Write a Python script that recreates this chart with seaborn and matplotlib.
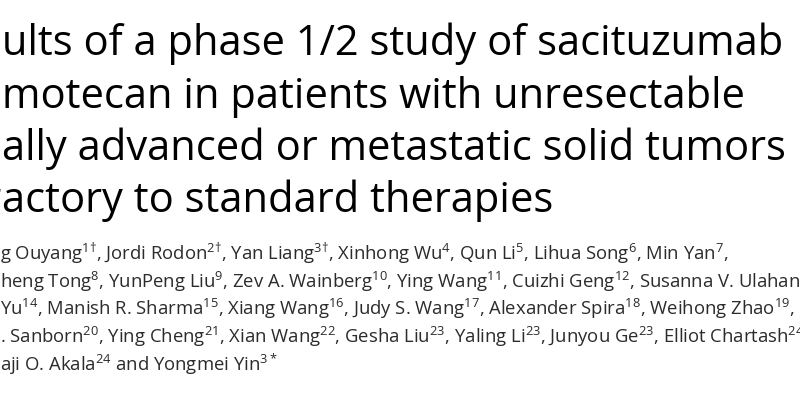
import matplotlib
matplotlib.use("Agg")
import matplotlib.pyplot as plt
import seaborn as sns

# Texto visible del recorte (titulo + autores), con el trozo oculto a la izquierda
title_hidden = ["Res", "tiru", "loc", "refr"]
title_lines = [
    "ults of a phase 1/2 study of sacituzumab",
    "motecan in patients with unresectable",
    "ally advanced or metastatic solid tumors",
    "actory to standard therapies",
]

author_hidden = ["Quchan", "Zhens", "Guohua ", "Rachel E", "Ademol"]
author_lines = [
    r"g Ouyang$^{1†}$, Jordi Rodon$^{2†}$, Yan Liang$^{3†}$, Xinhong Wu$^{4}$, Qun Li$^{5}$, Lihua Song$^{6}$, Min Yan$^{7}$,",
    r"heng Tong$^{8}$, YunPeng Liu$^{9}$, Zev A. Wainberg$^{10}$, Ying Wang$^{11}$, Cuizhi Geng$^{12}$, Susanna V. Ulahannan$^{13}$,",
    r"Yu$^{14}$, Manish R. Sharma$^{15}$, Xiang Wang$^{16}$, Judy S. Wang$^{17}$, Alexander Spira$^{18}$, Weihong Zhao$^{19}$, Rachel",
    r". Sanborn$^{20}$, Ying Cheng$^{21}$, Xian Wang$^{22}$, Gesha Liu$^{23}$, Yaling Li$^{23}$, Junyou Ge$^{23}$, Elliot Chartash$^{24}$,",
    r"aji O. Akala$^{24}$ and Yongmei Yin$^{3*}$",
]

sns.set_theme(style="white")
plt.rcParams["font.family"] = ["Open Sans", "DejaVu Sans"]
plt.rcParams["mathtext.fontset"] = "custom"
plt.rcParams["mathtext.rm"] = "Open Sans"
plt.rcParams["mathtext.it"] = "Open Sans:italic"
plt.rcParams["mathtext.bf"] = "Open Sans:bold"

fig = plt.figure(figsize=(8, 4), dpi=100)
ax = fig.add_axes([0, 0, 1, 1])
ax.set_xlim(0, 800)
ax.set_ylim(400, 0)
ax.axis("off")

# Titulo
for i, (pre, txt) in enumerate(zip(title_hidden, title_lines)):
    y = 55 + i * 52.5
    ax.text(2, y, pre, ha="right", va="baseline", fontsize=30, color="#000000")
    ax.text(2, y, txt, ha="left", va="baseline", fontsize=30, color="#000000")

# Autores
for i, (pre, txt) in enumerate(zip(author_hidden, author_lines)):
    y = 260 + i * 27.6
    ax.text(0, y, pre, ha="right", va="baseline", fontsize=13.3, color="#2b2b2b")
    ax.text(0, y, txt, ha="left", va="baseline", fontsize=13.3, color="#2b2b2b")

fig.savefig("out.png", dpi=100)
